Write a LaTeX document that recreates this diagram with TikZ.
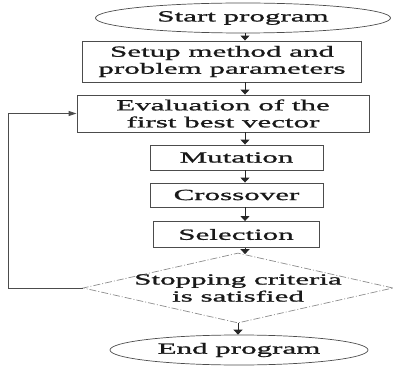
\documentclass[tikz,border=0pt]{standalone}
\usepackage{fontspec}
\setmainfont[FakeStretch=2.0,FakeBold=1.2]{Liberation Serif}
\usetikzlibrary{arrows.meta,shapes.geometric}

\begin{document}
\begin{tikzpicture}[node distance={40pt},
    every node/.style = {font=\fontsize{15.5}{17}\selectfont, text=black!90, inner sep=0pt, align=center},
    block/.style = {draw=black!70, line width=0.9pt, rectangle},
    term/.style = {draw=black!70, line width=0.7pt, ellipse},
    decide/.style = {draw=black!45, line width=0.7pt, diamond, dash pattern=on 7pt off 2pt on 1pt off 2pt},
    arr/.style = {draw=black!85, line width=1pt, -{Triangle[width=9pt,length=5pt]}},
    backarr/.style = {draw=black!70, line width=0.9pt, -{Triangle[width=5pt,length=8pt]}}]
    \useasboundingbox (0,0) rectangle (396pt,-366pt);

    \node[term, minimum width=295pt, minimum height=30pt] (start) at (243pt,-18pt) {Start program};
    \node[block, minimum width=279pt, minimum height=41pt] (setup) [below of=start, node distance=43.5pt, xshift=-21pt] {Setup method and\\problem parameters};
    \node[block, minimum width=292pt, minimum height=37pt] (eval) [below of=setup, node distance=52pt, xshift=1pt] {Evaluation of the\\first best vector};
    \node[block, minimum width=173pt, minimum height=25pt] (mut) [below of=eval, node distance=44pt, xshift=13.5pt] {Mutation};
    \node[block, minimum width=173pt, minimum height=24pt] (cross) [below of=mut, node distance=37.5pt] {Crossover};
    \node[block, minimum width=166pt, minimum height=26pt] (sel) [below of=cross, node distance=39.5pt, xshift=-0.5pt] {Selection};
    \node[decide, minimum width=310pt, minimum height=70pt,
          label={[align=center]center:Stopping criteria\\is satisfied}] (dia) [below of=sel, node distance=53.5pt, xshift=2pt] {};
    \node[term, minimum width=258pt, minimum height=30pt] (end) [below of=dia, node distance=62pt, xshift=1pt] {End program};

    \coordinate (axis) at (245pt,0);
    \coordinate (back) at (8pt,0);

    \draw[arr] (start.south -| axis) -- (setup.north -| axis);
    \draw[arr] (setup.south -| axis) -- (eval.north -| axis);
    \draw[arr] (eval.south -| axis) -- (mut.north -| axis);
    \draw[arr] (mut.south -| axis) -- (cross.north -| axis);
    \draw[arr] (cross.south -| axis) -- (sel.north -| axis);
    \draw[arr] (sel.south -| axis) -- ([yshift=-1.5pt]dia.north -| axis);
    \draw[arr] (dia.south) -- (end.north -| dia.south);
    \draw[backarr] (dia.west) -- (dia.west -| back) |- (eval.west);
\end{tikzpicture}
\end{document}
